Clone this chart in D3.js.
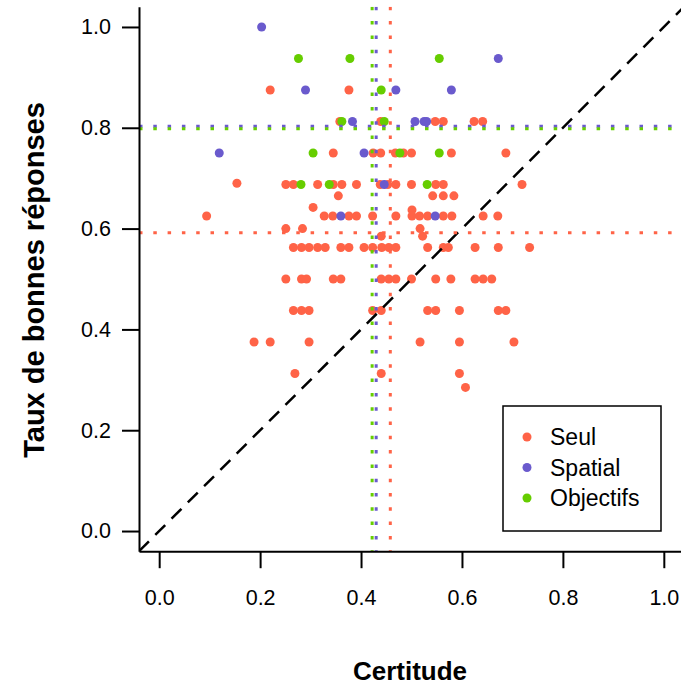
<!DOCTYPE html>
<html>
<head>
<meta charset="utf-8">
<script src="https://cdn.jsdelivr.net/npm/d3@7"></script>
<style>
  body { margin: 0; background: #fff; }
  svg { display: block; font-family: 'Liberation Sans', Arial, sans-serif; }
</style>
</head>
<body>
<svg></svg>
<script>
// Group names and colours (legend order)
let groups = ['Seul', 'Spatial', 'Objectifs'];
let colors = ['#FF6347', '#6A5ACD', '#66CD00'];

// Seul: certitude (x) and taux de bonnes réponses (y)
let seulX = [0.220, 0.376,
  0.358, 0.439, 0.547, 0.563, 0.624, 0.641,
  0.345, 0.424, 0.439, 0.468, 0.484, 0.500, 0.579, 0.687,
  0.154, 0.251, 0.266, 0.314, 0.345, 0.362, 0.391, 0.438, 0.453, 0.469, 0.500, 0.548, 0.563, 0.719,
  0.355, 0.542, 0.563, 0.584,
  0.305, 0.501,
  0.094, 0.327, 0.344, 0.376, 0.391, 0.423, 0.469, 0.501, 0.516, 0.532, 0.563, 0.580, 0.642, 0.671,
  0.251, 0.284, 0.517,
  0.440, 0.522,
  0.266, 0.282, 0.297, 0.314, 0.329, 0.360, 0.376, 0.406, 0.423, 0.441, 0.455, 0.469, 0.532, 0.563, 0.573, 0.626, 0.672, 0.734,
  0.251, 0.282, 0.292, 0.345, 0.360, 0.440, 0.455, 0.469, 0.500, 0.548, 0.578, 0.626, 0.642, 0.659,
  0.266, 0.282, 0.297, 0.423, 0.440, 0.532, 0.548, 0.595, 0.672, 0.687,
  0.188, 0.220, 0.297, 0.517, 0.595, 0.703,
  0.269, 0.440, 0.595,
  0.607];
let seulY = [0.875, 0.875,
  0.8125, 0.8125, 0.8125, 0.8125, 0.8125, 0.8125,
  0.75, 0.75, 0.75, 0.75, 0.75, 0.75, 0.75, 0.75,
  0.69, 0.6875, 0.6875, 0.6875, 0.6875, 0.6875, 0.6875, 0.6875, 0.6875, 0.6875, 0.6875, 0.6875, 0.6875, 0.6875,
  0.665, 0.665, 0.665, 0.665,
  0.642, 0.637,
  0.625, 0.625, 0.625, 0.625, 0.625, 0.625, 0.625, 0.625, 0.625, 0.625, 0.625, 0.625, 0.625, 0.625,
  0.6, 0.6, 0.6,
  0.585, 0.585,
  0.5625, 0.5625, 0.5625, 0.5625, 0.5625, 0.5625, 0.5625, 0.5625, 0.5625, 0.5625, 0.5625, 0.5625, 0.5625, 0.5625, 0.5625, 0.5625, 0.5625, 0.5625,
  0.5, 0.5, 0.5, 0.5, 0.5, 0.5, 0.5, 0.5, 0.5, 0.5, 0.5, 0.5, 0.5, 0.5,
  0.4375, 0.4375, 0.4375, 0.4375, 0.4375, 0.4375, 0.4375, 0.4375, 0.4375, 0.4375,
  0.375, 0.375, 0.375, 0.375, 0.375, 0.375,
  0.3125, 0.3125, 0.3125,
  0.285];

// Spatial
let spatialX = [0.203, 0.672, 0.290, 0.469, 0.579, 0.383, 0.507, 0.525, 0.530, 0.119, 0.406, 0.446, 0.360, 0.547];
let spatialY = [1.0, 0.9375, 0.875, 0.875, 0.875, 0.8125, 0.8125, 0.8125, 0.8125, 0.75, 0.75, 0.6875, 0.625, 0.625];

// Objectifs
let objectifsX = [0.276, 0.378, 0.555, 0.440, 0.362, 0.446, 0.305, 0.477, 0.555, 0.281, 0.337, 0.531];
let objectifsY = [0.9375, 0.9375, 0.9375, 0.875, 0.8125, 0.8125, 0.75, 0.75, 0.75, 0.6875, 0.6875, 0.6875];

// Group means (dotted reference lines)
let meanX = [0.458, 0.430, 0.422];
let meanY = [0.592, 0.803, 0.798];

// Axis ticks
let ticks = [0.0, 0.2, 0.4, 0.6, 0.8, 1.0];

// Dimensions
let width = 681;
let height = 686;

let svg = d3.select('svg')
    .attr('width', width)
    .attr('height', height);

// Scales (R style: 4% padding around 0..1)
let xScale = d3.scaleLinear().domain([-0.04, 1.04]).range([139, 684]);
let yScale = d3.scaleLinear().domain([-0.04, 1.04]).range([551.2, 6.8]);

// Clip to the plot region
svg.append('clipPath')
    .attr('id', 'plot-clip')
    .append('rect')
    .attr('x', 139)
    .attr('y', 6.8)
    .attr('width', 545)
    .attr('height', 544.4);

let plot = svg.append('g').attr('clip-path', 'url(#plot-clip)');

// Points, one group after the other
let series = [
  d3.zip(seulX, seulY),
  d3.zip(spatialX, spatialY),
  d3.zip(objectifsX, objectifsY)
];

series.forEach((pts, i) => {
  plot.append('g')
    .selectAll('circle')
    .data(pts)
    .enter()
    .append('circle')
    .attr('cx', (d) => xScale(d[0]))
    .attr('cy', (d) => yScale(d[1]))
    .attr('r', 4.5)
    .attr('fill', colors[i]);
});

// Diagonal y = x
plot.append('line')
    .attr('x1', xScale(-0.04))
    .attr('y1', yScale(-0.04))
    .attr('x2', xScale(1.04))
    .attr('y2', yScale(1.04))
    .attr('stroke', '#000')
    .attr('stroke-width', 2.5)
    .attr('stroke-dasharray', '14,9');

// Mean lines (dotted)
groups.forEach((g, i) => {
  plot.append('line')
    .attr('x1', xScale(meanX[i]))
    .attr('x2', xScale(meanX[i]))
    .attr('y1', yScale(1.04))
    .attr('y2', yScale(-0.04))
    .attr('stroke', colors[i])
    .attr('stroke-width', 3)
    .attr('stroke-dasharray', '3.5,10.8');

  plot.append('line')
    .attr('x1', xScale(-0.04))
    .attr('x2', xScale(1.04))
    .attr('y1', yScale(meanY[i]))
    .attr('y2', yScale(meanY[i]))
    .attr('stroke', colors[i])
    .attr('stroke-width', 3)
    .attr('stroke-dasharray', '3.5,10.8');
});

// Axes
let xAxis = d3.axisBottom(xScale)
    .tickValues(ticks)
    .tickFormat(d3.format('.1f'))
    .tickSize(17)
    .tickPadding(22)
    .tickSizeOuter(0);

let yAxis = d3.axisLeft(yScale)
    .tickValues(ticks)
    .tickFormat(d3.format('.1f'))
    .tickSize(17)
    .tickPadding(11)
    .tickSizeOuter(0);

let gx = svg.append('g')
    .attr('transform', `translate(0, ${yScale(-0.04)})`)
    .call(xAxis);

let gy = svg.append('g')
    .attr('transform', `translate(${xScale(-0.04)}, 0)`)
    .call(yAxis);

[gx, gy].forEach((g) => {
  g.select('.domain').attr('stroke', '#000').attr('stroke-width', 2);
  g.selectAll('.tick line').attr('stroke', '#000').attr('stroke-width', 2);
  g.selectAll('.tick text')
    .attr('fill', '#000')
    .style('font-size', '21.5px')
    .style('font-family', "'Liberation Sans', Arial, sans-serif");
});

// Axis titles
svg.append('text')
    .attr('x', 410)
    .attr('y', 680)
    .attr('text-anchor', 'middle')
    .style('font-size', '26px')
    .style('font-weight', 'bold')
    .text('Certitude');

svg.append('text')
    .attr('transform', 'translate(44, 280) rotate(-90)')
    .attr('text-anchor', 'middle')
    .style('font-size', '29px')
    .style('font-weight', 'bold')
    .text('Taux de bonnes réponses');

// Legend
let legend = svg.append('g');

legend.append('rect')
    .attr('x', 503)
    .attr('y', 406)
    .attr('width', 158)
    .attr('height', 125)
    .attr('fill', '#fff')
    .attr('stroke', '#000')
    .attr('stroke-width', 1.5);

groups.forEach((g, i) => {
  legend.append('circle')
    .attr('cx', 527)
    .attr('cy', 437 + i * 30.5)
    .attr('r', 4.5)
    .attr('fill', colors[i]);

  legend.append('text')
    .attr('x', 550)
    .attr('y', 437 + i * 30.5)
    .attr('dy', '0.35em')
    .style('font-size', '23px')
    .text(g);
});
</script>
</body>
</html>
